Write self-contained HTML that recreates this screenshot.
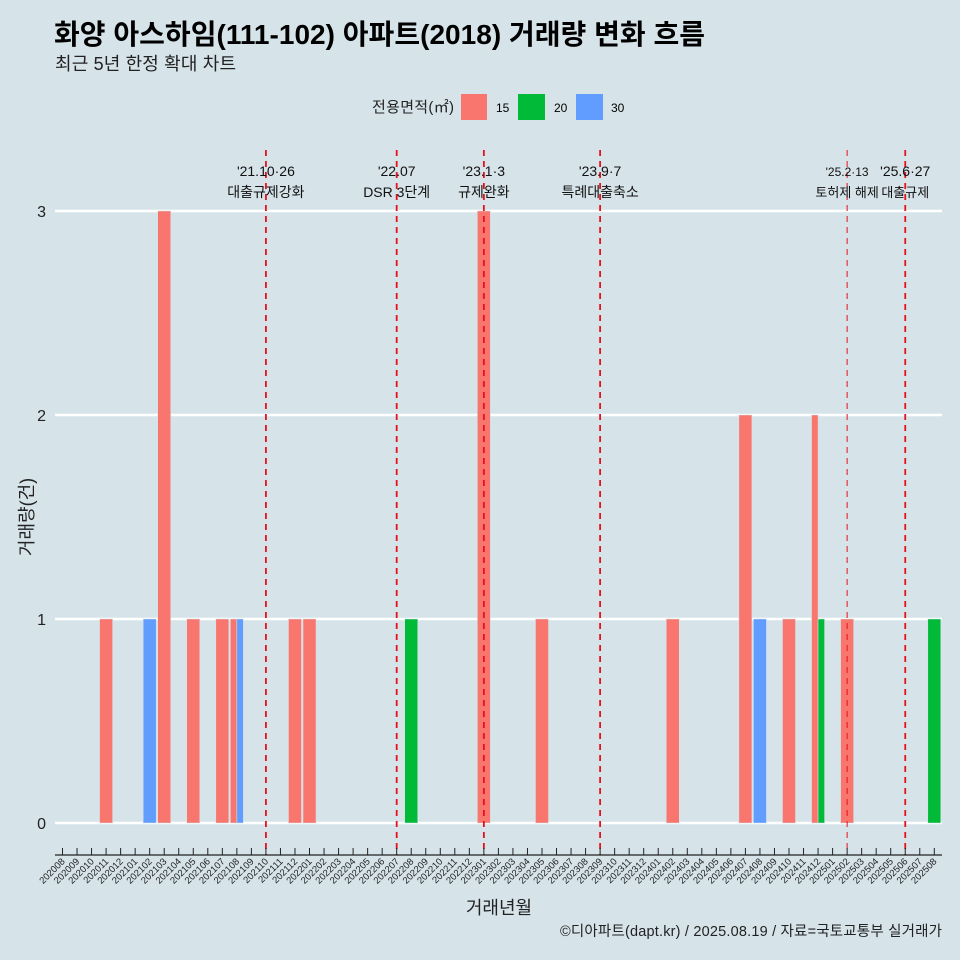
<!DOCTYPE html>
<html><head><meta charset="utf-8">
<style>
body{margin:0;background:#d6e4ea;}
svg{display:block;font-family:"Liberation Sans","Noto Sans CJK KR",sans-serif;}
</style></head>
<body>
<svg id="chart" width="960" height="960" viewBox="0 0 960 960">
<rect width="960" height="960" fill="#d6e4ea"/>
<text x="54" y="44" font-size="28" font-weight="bold" fill="#000" textLength="651">화양 아스하임(111-102) 아파트(2018) 거래량 변화 흐름</text>
<text x="55" y="70" font-size="18" fill="#222" textLength="181">최근 5년 한정 확대 차트</text>
<g>
<text x="372" y="112" font-size="15" fill="#222" textLength="82">전용면적(㎡)</text>
<rect x="461" y="94" width="26" height="26" fill="#f8766d"/>
<text x="496" y="112" font-size="12">15</text>
<rect x="518" y="94" width="27" height="26" fill="#00ba38"/>
<text x="554" y="112" font-size="12">20</text>
<rect x="576" y="94" width="27" height="26" fill="#619cff"/>
<text x="611" y="112" font-size="12">30</text>
</g>
<g id="grid"></g><g id="bars"></g><g id="events"></g><g id="axes"></g>
<text x="33" y="517" font-size="18" fill="#222" transform="rotate(-90 33 517)" text-anchor="middle">거래량(건)</text>
<text x="499" y="914" font-size="18" fill="#222" text-anchor="middle">거래년월</text>
<text x="942" y="936" font-size="14.5" fill="#222" text-anchor="end" textLength="382">©디아파트(dapt.kr) / 2025.08.19 / 자료=국토교통부 실거래가</text>
</svg>
<script>
const months = [];
for (let y = 2020; y <= 2025; y++) for (let m = 1; m <= 12; m++) {
  const k = y * 100 + m;
  if (k >= 202008 && k <= 202508) months.push(String(k));
}
const sizes = ["15", "20", "30"];
const colors = {"15": "#f8766d", "20": "#00ba38", "30": "#619cff"};
const series15 = {"202011":1,"202103":3,"202105":1,"202107":1,"202108":1,"202112":1,"202201":1,"202301":3,"202305":1,"202402":1,"202407":2,"202410":1,"202412":2,"202502":1};
const series20 = {"202208":1,"202412":1,"202508":1};
const series30 = {"202102":1,"202108":1,"202408":1};
const yTicks = [0, 1, 2, 3];
const eventMonths = ["202110","202207","202301","202309","202502","202506"];
const eventDates = ["'21.10·26","'22.07","'23.1·3","'23.9·7","'25.2·13","'25.6·27"];
const eventLabels = ["대출규제강화","DSR 3단계","규제완화","특례대출축소","토허제 해제","대출규제"];

const NS = "http://www.w3.org/2000/svg";
const step = 14.53, x0 = 62.5;
const xScale = i => x0 + i * step;
const yScale = v => 823 - v * 204;
function mk(tag, attrs, parent) {
  const e = document.createElementNS(NS, tag);
  for (const k in attrs) e.setAttribute(k, attrs[k]);
  parent.appendChild(e); return e;
}
const grid = document.getElementById('grid');
yTicks.forEach(t => {
  const l = mk('line', {x1:55, x2:942, y1:yScale(t), y2:yScale(t), stroke:'#fff', 'stroke-width':2.5}, grid);
  
  
  const tx = mk('text', {x:46, y:yScale(t)+6, 'font-size':16, 'text-anchor':'end', fill:'#222'}, grid);
  tx.textContent = t;
  
  
});
const bars = document.getElementById('bars');
const seriesBySize = {"15": series15, "20": series20, "30": series30};
const bw = 13;
months.forEach((mo, i) => {
  const present = sizes.filter(s => seriesBySize[s][mo]);
  const w = bw / (present.length || 1);
  present.forEach((s, j) => {
    const v = seriesBySize[s][mo];
    const x = xScale(i) - bw/2 + j*w;
    const r = mk('rect', {x:x, y:yScale(v), width:w, height:yScale(0)-yScale(v), fill:colors[s], stroke:'#d6e4ea', 'stroke-width':0.5}, bars);
    
    
  });
});
const ev = document.getElementById('events');
eventMonths.forEach((mo, k) => {
  const x = xScale(months.indexOf(mo));
  const thin = mo === "202502";
  const late = mo >= "202502";
  const l = mk('line', {x1:x, x2:x, y1:150, y2:855, stroke:'#e8101a', 'stroke-width':thin?1:1.8, 'stroke-dasharray':'6,5'}, ev);
  
  
  const t1 = mk('text', {x:x, y:176, 'font-size':thin?12:14, 'text-anchor':'middle', fill:'#111'}, ev);
  t1.textContent = eventDates[k];
  
  
  const t2 = mk('text', {x:x, y:197, 'font-size':late?13:14, 'text-anchor':'middle', fill:'#111'}, ev);
  t2.textContent = eventLabels[k];
  
  
});
const ax = document.getElementById('axes');
const al = mk('line', {x1:55, x2:942, y1:855, y2:855, stroke:'#222', 'stroke-width':1.2}, ax);


months.forEach((mo, i) => {
  const x = xScale(i);
  const t = mk('line', {x1:x, x2:x, y1:848, y2:855, stroke:'#222', 'stroke-width':1}, ax);
  
  
  const lb = mk('text', {x:x+3, y:862, 'font-size':9.5, 'text-anchor':'end', fill:'#222', transform:`rotate(-45 ${x+3} 862)`}, ax);
  lb.textContent = mo;
  
  
});
</script>
</body></html>
